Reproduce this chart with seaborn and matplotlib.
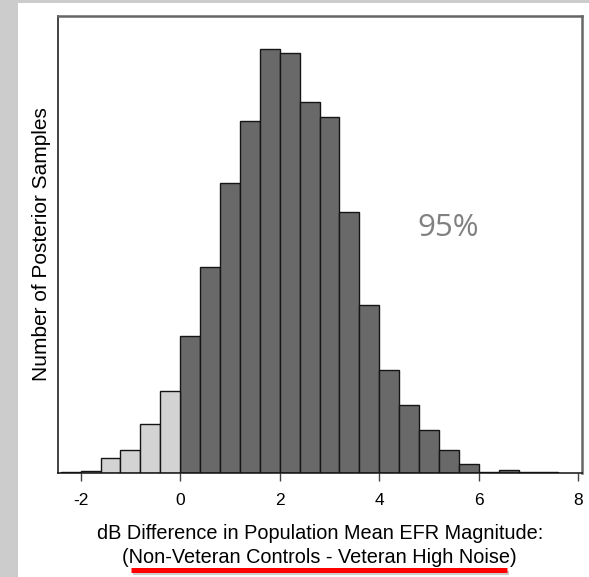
import numpy as np
import pandas as pd
import matplotlib
matplotlib.use("Agg")
import matplotlib.pyplot as plt
from matplotlib.patches import Rectangle
from matplotlib.lines import Line2D
import seaborn as sns

# ---- data ----
bin_edges = [-2.4, -2.0, -1.6, -1.2, -0.8, -0.4, 0.0, 0.4, 0.8, 1.2, 1.6, 2.0, 2.4,
             2.8, 3.2, 3.6, 4.0, 4.4, 4.8, 5.2, 5.6, 6.0, 6.4, 6.8, 7.2, 7.6]
bin_centers = [-2.2, -1.8, -1.4, -1.0, -0.6, -0.2, 0.2, 0.6, 1.0, 1.4, 1.8, 2.2, 2.6,
               3.0, 3.4, 3.8, 4.2, 4.6, 5.0, 5.4, 5.8, 6.2, 6.6, 7.0, 7.4]
sample_counts = [3, 7, 45, 69, 149, 246, 413, 618, 870, 1058, 1272, 1262, 1113,
                 1068, 785, 504, 309, 206, 129, 69, 27, 3, 9, 3, 3]
regions = ["below"] * 6 + ["above"] * 19
x_ticks = [-2, 0, 2, 4, 6, 8]
x_tick_labels = ["-2", "0", "2", "4", "6", "8"]
x_label = "dB Difference in Population Mean EFR Magnitude:\n(Non-Veteran Controls - Veteran High Noise)"
y_label = "Number of Posterior Samples"
annotation = "95%"

df = pd.DataFrame({"diff": bin_centers, "count": sample_counts, "region": regions})

sns.set_theme(style="white")
plt.rcParams["font.family"] = ["Liberation Sans", "DejaVu Sans"]

W, H = 589, 577
fig = plt.figure(figsize=(W / 100, H / 100), dpi=100)
fig.patch.set_facecolor("#cccccc")
fig.add_artist(Rectangle((18 / W, 0), 1, 1 - 3 / H, transform=fig.transFigure,
                         facecolor="white", edgecolor="none", zorder=-5))

left, right, top, bottom = 58, 581.7, 15.6, 473.3
ax = fig.add_axes([left / W, 1 - bottom / H, (right - left) / W, (bottom - top) / H])
ax.set_facecolor("white")

sns.histplot(data=df, x="diff", weights="count", bins=bin_edges, hue="region",
             palette={"below": "#d3d3d3", "above": "#696969"}, multiple="layer",
             alpha=1, edgecolor="#151515", linewidth=1.0, legend=False, ax=ax)

ax.set_xlim(-2.456, 8.07)
ax.set_ylim(0, 1373)
ax.set_xticks(x_ticks)
ax.set_xticklabels(x_tick_labels, fontsize=12.5)
ax.set_yticks([])
ax.tick_params(axis="x", direction="out", length=5.5, width=1.0, color="#444444",
               pad=8.5, labelcolor="black", bottom=True)

for s in ["left", "bottom"]:
    ax.spines[s].set_color("#111111")
    ax.spines[s].set_linewidth(1.1)
for s in ["top", "right"]:
    ax.spines[s].set_color("#666666")
    ax.spines[s].set_linewidth(1.8)

ax.set_ylabel(y_label, fontsize=15, labelpad=5, color="black")
ax.set_xlabel(x_label, fontsize=14.3, labelpad=11.5, color="black", linespacing=1.38)

ax.text(0.745, 0.536, annotation, transform=ax.transAxes, ha="center", va="center",
        fontsize=22.5, color="#808080", family=["Open Sans", "DejaVu Sans"])

# red underline emphasis under second label line
y_line = 1 - 569.5 / H
fig.add_artist(Line2D([133 / W, 509 / W], [y_line - 3 / H] * 2, transform=fig.transFigure,
                      color="#9a9a9a", lw=3, alpha=0.5, solid_capstyle="butt"))
fig.add_artist(Line2D([131 / W, 507 / W], [y_line] * 2, transform=fig.transFigure,
                      color="#ff0000", lw=3.6, solid_capstyle="butt"))

fig.savefig("out.png", dpi=100, facecolor=fig.get_facecolor())
